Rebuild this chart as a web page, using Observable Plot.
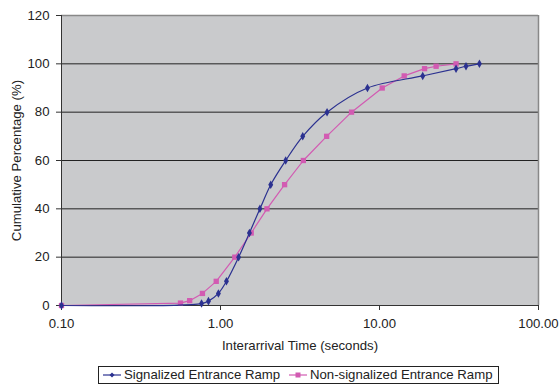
<!DOCTYPE html>
<html>
<head>
<meta charset="utf-8">
<script src="https://cdn.jsdelivr.net/npm/d3@7"></script>
<script src="https://cdn.jsdelivr.net/npm/@observablehq/plot@0.6"></script>
<style>
  body { margin: 0; background: #fff; font-family: "Liberation Sans", Arial, sans-serif; }
  #legend { position: absolute; left: 98px; top: 366px; width: 399px; height: 16px; border: 1px solid #222; font-size: 13.2px; color: #222; }
  #legend .sw { position: absolute; top: 1px; }
  #legend .tx { position: absolute; top: 0px; line-height: 16px; white-space: nowrap; }
</style>
</head>
<body>
<div id="chart"></div>
<div id="legend"></div>
<script>
const seriesNames = ["Signalized Entrance Ramp", "Non-signalized Entrance Ramp"];
const sigTime = [0.1, 0.76, 0.84, 0.97, 1.09, 1.30, 1.52, 1.77, 2.07, 2.57, 3.29, 4.68, 8.4, 18.7, 30.3, 35.0, 42.5];
const sigPct  = [0,   0.8,  1.8,  5,    10,   20,   30,   40,   50,   60,   70,   80,   90,  95,   98,   99,   100];
const nonTime = [0.1, 0.56, 0.64, 0.77, 0.94, 1.23, 1.56, 1.96, 2.53, 3.32, 4.65, 6.67, 10.4, 14.3, 19.2, 22.7, 30.3];
const nonPct  = [0,   1,    2,    5,    10,   20,   30,   40,   50,   60,   70,   80,   90,   95,   98,   99,   100];
const xTicks = [0.1, 1, 10, 100];
const yTicks = [0, 20, 40, 60, 80, 100, 120];
const gridY = [20, 40, 60, 80, 100];
const colors = ["#2B3190", "#D25BB2"];

const sig = sigTime.map((t, i) => ({t, p: sigPct[i]}));
const non = nonTime.map((t, i) => ({t, p: nonPct[i]}));

const FS = 13.2;
const chart = Plot.plot({
  width: 559,
  height: 366,
  marginLeft: 61,
  marginRight: 21,
  marginTop: 15,
  marginBottom: 61,
  style: {fontFamily: "Liberation Sans, Arial, sans-serif", fontSize: FS + "px", color: "#222", background: "#fff"},
  x: {type: "log", domain: [0.1, 100]},
  y: {domain: [0, 120]},
  marks: [
    Plot.frame({fill: "#C9CACC", stroke: null}),
    Plot.ruleY(gridY, {stroke: "#222", strokeWidth: 1}),
    Plot.ruleY([120], {stroke: "#888", strokeWidth: 1.5}),
    Plot.ruleX([100], {stroke: "#888", strokeWidth: 1.5}),
    Plot.ruleY([0], {stroke: "#333", strokeWidth: 1}),
    Plot.ruleX([0.1], {stroke: "#333", strokeWidth: 1}),
    Plot.axisY({ticks: yTicks, tickSize: 5, tickPadding: 7, label: null, stroke: "#333", fontSize: FS}),
    Plot.axisX({ticks: xTicks, tickFormat: d3.format(".2f"), tickSize: 5, tickPadding: 8, label: null, stroke: "#333", fontSize: FS}),
    Plot.text(["Cumulative Percentage (%)"], {frameAnchor: "left", dx: -45, rotate: -90, textAnchor: "middle", fontSize: FS, fill: "#222"}),
    Plot.text(["Interarrival Time (seconds)"], {frameAnchor: "bottom", dy: 44, textAnchor: "middle", fontSize: FS, fill: "#222"}),
    Plot.line(non, {x: "t", y: "p", stroke: colors[1], strokeWidth: 1.2}),
    Plot.dot(non, {x: "t", y: "p", symbol: "square", fill: colors[1], r: 3}),
    Plot.line(sig, {x: "t", y: "p", stroke: colors[0], strokeWidth: 1.2, curve: "catmull-rom"}),
    Plot.dot(sig, {x: "t", y: "p", symbol: "diamond", fill: colors[0], r: 2.6})
  ]
});
document.getElementById("chart").append(chart);

// legend
const legend = document.getElementById("legend");
const shapes = [
  `<path d="M9,4.5 L11.5,7 L9,9.5 L6.5,7 Z" fill="${colors[0]}"/>`,
  `<rect x="6.5" y="4.5" width="5" height="5" fill="${colors[1]}"/>`
];
const swX = [4, 190];
const txX = [25, 211];
seriesNames.forEach((name, i) => {
  const sw = document.createElement("div");
  sw.className = "sw";
  sw.style.left = swX[i] + "px";
  sw.innerHTML = `<svg width="18" height="14"><line x1="0" x2="18" y1="7" y2="7" stroke="${colors[i]}" stroke-width="1.2"/>${shapes[i]}</svg>`;
  const tx = document.createElement("div");
  tx.className = "tx";
  tx.style.left = txX[i] + "px";
  tx.textContent = name;
  legend.append(sw, tx);
});
</script>
</body>
</html>
